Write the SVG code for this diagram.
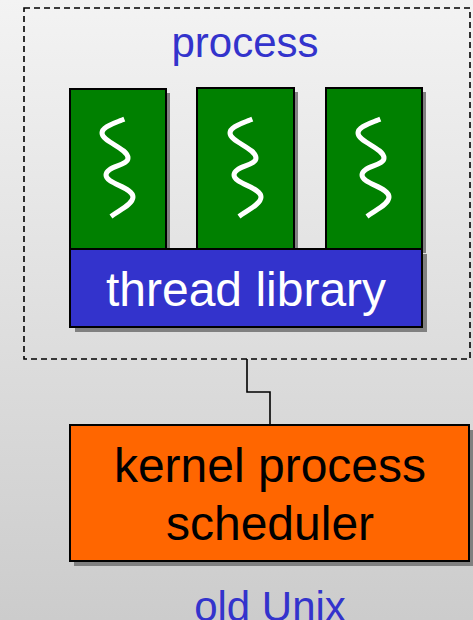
<svg xmlns="http://www.w3.org/2000/svg" width="473" height="620" viewBox="0 0 473 620">
<defs>
<linearGradient id="bg" x1="0" y1="0" x2="0" y2="1">
<stop offset="0" stop-color="#f3f3f3"/>
<stop offset="1" stop-color="#cccccc"/>
</linearGradient>
<path id="sq" d="M122,120 C112,124 102,127 102,133 C102,142 128,148 128,158 C128,166 106,166 106,175 C106,184 133,187 133,197 C133,204 120,210 113,215"/>
</defs>
<style>
.shadow{fill:#808080}
.box{stroke:#000;stroke-width:2}
.thread{fill:#008000}
.squig{fill:none;stroke:#fff;stroke-width:5;stroke-linecap:square}
.lbl{font-family:"Liberation Sans",Arial,sans-serif;text-anchor:middle}
.blue{fill:#3333cc;font-size:42px}
.conn{fill:none;stroke:#000;stroke-width:1.6}
</style>
<rect width="473" height="620" fill="url(#bg)"/>
<g id="process">
<rect x="24" y="8" width="446" height="351" fill="none" stroke="#000" stroke-width="1.6" stroke-dasharray="6,4"/>
<text class="lbl blue" x="245" y="57">process</text>
</g>
<g id="thread1">
<rect class="shadow" x="74" y="93" width="96" height="160"/>
<rect class="box thread" x="70" y="89" width="96" height="160"/>
<use href="#sq" class="squig"/>
</g>
<g id="thread2">
<rect class="shadow" x="201" y="92" width="97" height="161"/>
<rect class="box thread" x="197" y="88" width="97" height="161"/>
<use href="#sq" class="squig" transform="translate(128,0)"/>
</g>
<g id="thread3">
<rect class="shadow" x="330" y="92" width="96" height="161"/>
<rect class="box thread" x="326" y="88" width="96" height="161"/>
<use href="#sq" class="squig" transform="translate(256,0)"/>
</g>
<g id="thread-library">
<rect class="shadow" x="75" y="254" width="352" height="78"/>
<rect class="box" x="70" y="249" width="352" height="78" fill="#3333cc"/>
<text class="lbl" x="246" y="306" font-size="48" fill="#fff">thread library</text>
</g>
<g id="connectors">
<path class="conn" d="M247,359 V392 H270 V425"/>
</g>
<g id="kernel-scheduler">
<rect class="shadow" x="74" y="430" width="399" height="136"/>
<rect class="box" x="70" y="425" width="399" height="136" fill="#ff6600"/>
<text class="lbl" x="270" y="482" font-size="48" fill="#000">kernel process</text>
<text class="lbl" x="270" y="540" font-size="48" fill="#000">scheduler</text>
</g>
<g id="old-unix">
<text class="lbl blue" x="270" y="621">old Unix</text>
</g>
</svg>
